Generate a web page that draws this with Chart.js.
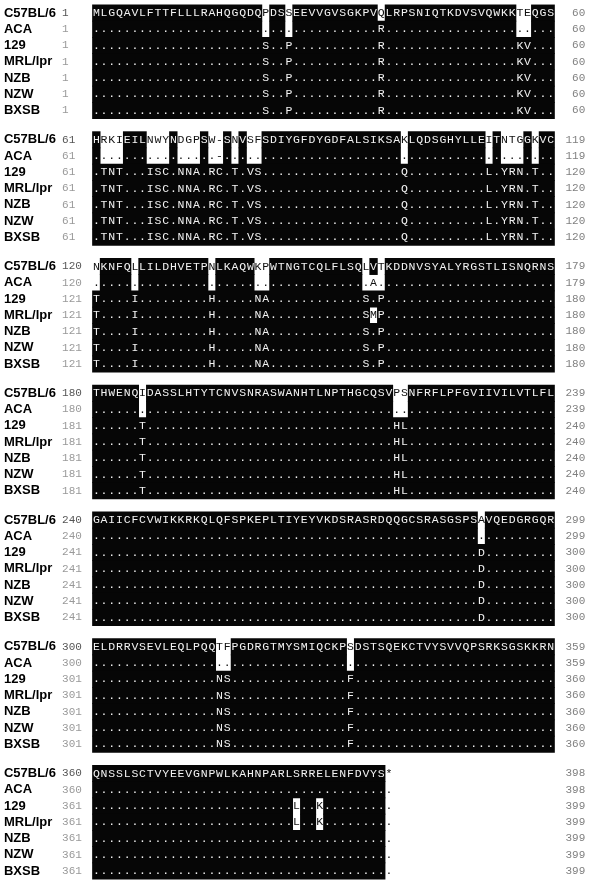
<!DOCTYPE html>
<html>
<head>
<meta charset="utf-8">
<script src="https://cdn.jsdelivr.net/npm/chart.js@4.4.0/dist/chart.umd.min.js"></script>
<style>
  html, body { margin: 0; padding: 0; background: #fff; }
</style>
</head>
<body>
<canvas id="chart" width="598" height="885"></canvas>
<script>
// rows of every block, top to bottom
const strains = ['C57BL/6', 'ACA', '129', 'MRL/lpr', 'NZB', 'NZW', 'BXSB'];

// C57BL/6 sequence, one string per block ('-' gap, '*' stop)
const refSeq = [
  'MLGQAVLFTTFLLLRAHQGQDQPDSSEEVVGVSGKPVQLRPSNIQTKDVSVQWKKTEQGS',
  'HRKIEILNWYNDGPSW-SNVSFSDIYGFDYGDFALSIKSAKLQDSGHYLLEITNTGGKVC',
  'NKNFQLLILDHVETPNLKAQWKPWTNGTCQLFLSQLVTKDDNVSYALYRGSTLISNQRNS',
  'THWENQIDASSLHTYTCNVSNRASWANHTLNPTHGCQSVPSNFRFLPFGVIIVILVTLFL',
  'GAIICFCVWIKKRKQLQFSPKEPLTIYEYVKDSRASRDQQGCSRASGSPSAVQEDGRGQR',
  'ELDRRVSEVLEQLPQQTFPGDRGTMYSMIQCKPSDSTSQEKCTVYSVVQPSRKSGSKKRN',
  'QNSSLSCTVYEEVGNPWLKAHNPARLSRRELENFDVYS*'
];

// differences from C57BL/6, "column + residue" (column counted from 0)
const diffACA = ['37R', '', '36A', '', '', '', ''];
const diff129 = [
  '22S 25P 37R 55K 56V',
  '1T 2N 3T 7I 8S 9C 11N 12N 13A 15R 16C 18T 20V 21S 40Q 51L 53Y 54R 55N 57T',
  '0T 5I 15H 21N 22A 35S 37P',
  '6T 39H 40L',
  '50D',
  '16N 17S 33F',
  '26L 29K'
];
const diffMRL = [diff129[0], diff129[1], '0T 5I 15H 21N 22A 35S 36M 37P',
  diff129[3], diff129[4], diff129[5], '26L 29K'];
const diffNZB = diff129.slice(0, 6).concat(['']);
const diffNZW = diff129.slice(0, 6).concat(['']);
const diffBXSB = diff129.slice(0, 6).concat(['']);

// residue numbers at the start / end of each line
const startC57 = [1, 61, 120, 180, 240, 300, 360];
const endC57 = [60, 119, 179, 239, 299, 359, 398];
const startACA = [1, 61, 120, 180, 240, 300, 360];
const endACA = [60, 119, 179, 239, 299, 359, 398];
const startOther = [1, 61, 121, 181, 241, 301, 361];
const endOther = [60, 120, 180, 240, 300, 360, 399];

// layout (column / row units of the scales)
const BLOCK_STEP = 7.8;
const NAME_X = -12.0, START_X = -4.45, END_X = 63.5;

const rowDiffs = [null, diffACA, diff129, diffMRL, diffNZB, diffNZW, diffBXSB];
const rowStart = [startC57, startACA, startOther, startOther, startOther, startOther, startOther];
const rowEnd = [endC57, endACA, endOther, endOther, endOther, endOther, endOther];

const residues = (b, diff) => {
    const chars = refSeq[b].split('');
    if (!diff) return chars;
    diff[b].split(' ').filter(Boolean).forEach(d => {
        chars[parseInt(d)] = d.replace(/^\d+/, '');
    });
    return chars;
}

// shade a residue when it agrees with the majority of its column
const blocks = refSeq.map((seq, b) => {
    const rows = rowDiffs.map(d => residues(b, d));
    const major = seq.split('').map((_, c) => {
        const count = {};
        rows.forEach(r => { count[r[c]] = (count[r[c]] || 0) + 1; });
        return Object.keys(count).sort((a, z) => count[z] - count[a])[0];
    });
    const shaded = rows.map(r => r.map((ch, c) => seq[c] !== '*' && ch === major[c]));
    return { rows, shaded };
});

const bars = [];
blocks.forEach((blk, b) => {
    blk.shaded.forEach((row, r) => {
        let c = 0;
        while (c < row.length) {
            if (!row[c]) { c++; continue; }
            let e = c;
            while (e + 1 < row.length && row[e + 1]) e++;
            bars.push({ x: [c - 0.5, e + 0.5], y: b * BLOCK_STEP + r });
            c = e + 1;
        }
    });
});

const alignText = {
    id: 'alignText',
    afterDatasetsDraw(chart) {
        const { ctx, scales: { x, y } } = chart;
        ctx.save();
        ctx.textBaseline = 'middle';
        blocks.forEach((blk, b) => {
            blk.rows.forEach((row, r) => {
                const py = y.getPixelForValue(b * BLOCK_STEP + r);
                ctx.textAlign = 'left';
                ctx.font = 'bold 13px "Liberation Sans", Arial, sans-serif';
                ctx.fillStyle = '#000';
                ctx.fillText(strains[r], x.getPixelForValue(NAME_X), py);

                ctx.font = '11px "Liberation Mono", monospace';
                ctx.fillStyle = r === 0 ? '#555' : '#999';
                ctx.fillText(String(rowStart[r][b]), x.getPixelForValue(START_X), py);
                ctx.textAlign = 'right';
                ctx.fillStyle = '#808080';
                ctx.fillText(String(rowEnd[r][b]), x.getPixelForValue(END_X), py);

                ctx.textAlign = 'center';
                ctx.font = '11.5px "Liberation Mono", monospace';
                row.forEach((ch, c) => {
                    const ref = refSeq[b][c];
                    const shown = r === 0 || (ch !== ref) || ch === '-' ? ch : '.';
                    ctx.fillStyle = blk.shaded[r][c] ? '#f2f2f2' : '#111';
                    ctx.fillText(shown, x.getPixelForValue(c), py);
                });
            });
        });
        ctx.restore();
    }
};

new Chart(document.getElementById('chart'), {
    type: 'bar',
    data: {
        datasets: [{
            data: bars,
            backgroundColor: '#060606',
            borderWidth: 0,
            barPercentage: 1,
            categoryPercentage: 1
        }]
    },
    options: {
        indexAxis: 'y',
        responsive: false,
        animation: false,
        layout: { padding: 0 },
        plugins: { legend: { display: false }, tooltip: { enabled: false } },
        scales: {
            x: { type: 'linear', min: -12.51, max: 65.15, display: false },
            y: { type: 'linear', reverse: true, offset: false, min: -0.8, max: 53.66, display: false }
        }
    },
    plugins: [alignText]
});
</script>
</body>
</html>
